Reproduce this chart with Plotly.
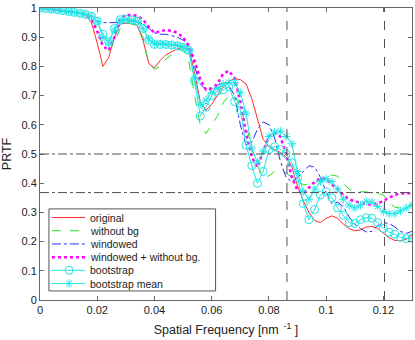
import math
import plotly.graph_objects as go

# spatial frequency grid [nm^-1]
freq = [round(0.002 * i, 3) for i in range(66)]

original = [1.0, 0.998, 0.995, 0.992, 0.99, 0.987, 0.985, 0.982, 0.978, 0.95,
            0.88, 0.80, 0.83, 0.90, 0.945, 0.948, 0.946, 0.94, 0.89, 0.81,
            0.795, 0.82, 0.84, 0.85, 0.86, 0.865, 0.86, 0.78, 0.68, 0.65,
            0.67, 0.70, 0.73, 0.75, 0.757, 0.755, 0.74, 0.69, 0.62, 0.55,
            0.525, 0.515, 0.505, 0.49, 0.457, 0.39, 0.34, 0.30, 0.272, 0.265,
            0.28, 0.288, 0.28, 0.26, 0.245, 0.237, 0.24, 0.25, 0.252, 0.245,
            0.23, 0.213, 0.204, 0.203, 0.208, 0.222]

without_bg = [1.0, 0.998, 0.995, 0.992, 0.99, 0.987, 0.985, 0.982, 0.978, 0.965,
              0.93, 0.87, 0.853, 0.88, 0.93, 0.948, 0.947, 0.94, 0.90, 0.81,
              0.79, 0.80, 0.825, 0.84, 0.855, 0.86, 0.82, 0.70, 0.60, 0.57,
              0.60, 0.63, 0.675, 0.70, 0.70, 0.66, 0.60, 0.52, 0.46, 0.42,
              0.425, 0.44, 0.44, 0.435, 0.42, 0.405, 0.395, 0.395, 0.40, 0.415,
              0.43, 0.428, 0.424, 0.40, 0.38, 0.372, 0.372, 0.37, 0.367, 0.365,
              0.36, 0.335, 0.318, 0.315, 0.32, 0.328]

windowed = [1.0, 0.998, 0.996, 0.993, 0.99, 0.988, 0.985, 0.982, 0.978, 0.97,
            0.955, 0.95, 0.95, 0.948, 0.95, 0.955, 0.955, 0.952, 0.945, 0.93,
            0.915, 0.91, 0.91, 0.905, 0.90, 0.89, 0.875, 0.80, 0.74, 0.72,
            0.72, 0.735, 0.745, 0.735, 0.70, 0.60, 0.53, 0.54, 0.585, 0.61,
            0.60, 0.555, 0.475, 0.42, 0.405, 0.42, 0.44, 0.46, 0.455, 0.42,
            0.37, 0.33, 0.335, 0.32, 0.285, 0.26, 0.245, 0.233, 0.235, 0.255,
            0.265, 0.262, 0.25, 0.235, 0.228, 0.235]

windowed_no_bg = [1.0, 0.998, 0.996, 0.993, 0.99, 0.988, 0.985, 0.982, 0.975, 0.96,
                  0.92, 0.87, 0.855, 0.90, 0.965, 0.976, 0.976, 0.973, 0.96, 0.935,
                  0.915, 0.92, 0.925, 0.922, 0.915, 0.90, 0.87, 0.82, 0.756, 0.72,
                  0.725, 0.74, 0.775, 0.785, 0.76, 0.68, 0.57, 0.49, 0.455, 0.51,
                  0.56, 0.572, 0.56, 0.50, 0.42, 0.375, 0.365, 0.385, 0.405, 0.417,
                  0.415, 0.395, 0.38, 0.36, 0.345, 0.338, 0.332, 0.328, 0.326, 0.33,
                  0.34, 0.35, 0.36, 0.365, 0.366, 0.366]

bootstrap = [1.0, 0.998, 0.996, 0.994, 0.991, 0.988, 0.985, 0.982, 0.978, 0.972,
             0.955, 0.91, 0.885, 0.93, 0.96, 0.962, 0.96, 0.955, 0.93, 0.89,
             0.875, 0.875, 0.875, 0.873, 0.87, 0.865, 0.855, 0.75, 0.63, 0.66,
             0.70, 0.715, 0.72, 0.73, 0.68, 0.65, 0.53, 0.46, 0.40, 0.44,
             0.515, 0.525, 0.515, 0.50, 0.47, 0.42, 0.33, 0.275, 0.31, 0.36,
             0.37, 0.35, 0.315, 0.29, 0.265, 0.262, 0.275, 0.282, 0.28, 0.265,
             0.245, 0.232, 0.225, 0.215, 0.21, 0.212]

bootstrap_mean = [1.0, 0.998, 0.996, 0.994, 0.991, 0.988, 0.985, 0.982, 0.978, 0.972,
                  0.955, 0.90, 0.88, 0.925, 0.955, 0.96, 0.958, 0.953, 0.93, 0.895,
                  0.878, 0.878, 0.876, 0.874, 0.872, 0.867, 0.855, 0.76, 0.67, 0.685,
                  0.71, 0.725, 0.74, 0.745, 0.745, 0.71, 0.64, 0.52, 0.47, 0.51,
                  0.56, 0.575, 0.578, 0.56, 0.535, 0.44, 0.37, 0.345, 0.38, 0.405,
                  0.415, 0.405, 0.38, 0.345, 0.325, 0.315, 0.325, 0.338, 0.335, 0.32,
                  0.303, 0.296, 0.296, 0.305, 0.315, 0.325]

prtf_levels = [0.5, 1 / math.e]        # dash-dot reference levels
resolution_cutoffs = [0.0863, 0.1204]  # dashed vertical markers

xticks = [0, 0.02, 0.04, 0.06, 0.08, 0.1, 0.12]
xtick_text = ["0", "0.02", "0.04", "0.06", "0.08", "0.1", "0.12"]
yticks = [i / 10 for i in range(11)]
ytick_text = ["0", "0.1", "0.2", "0.3", "0.4", "0.5", "0.6", "0.7", "0.8", "0.9", "1"]

cyan = "#22e6e6"

# (name, values, line style, marker symbol)
series = [
    ("original", original, dict(color="#ff2a2a", width=1), None),
    ("without bg", without_bg, dict(color="#22e022", width=1, dash="dash"), None),
    ("windowed", windowed, dict(color="#2a2aff", width=1, dash="dashdot"), None),
    ("windowed + without bg.", windowed_no_bg, dict(color="#ff00ff", width=2.5, dash="dot"), None),
    ("bootstrap", bootstrap, dict(color=cyan, width=1), ("circle-open", 8)),
    ("bootstrap mean", bootstrap_mean, dict(color=cyan, width=1), ("asterisk-open", 7)),
]

fig = go.Figure()

for lvl in prtf_levels:
    fig.add_hline(y=lvl, line=dict(color="#505050", width=1, dash="dashdot"))
for cut in resolution_cutoffs:
    fig.add_vline(x=cut, line=dict(color="#505050", width=1, dash="dash"))

for name, vals, ln, mk in series:
    if mk:
        fig.add_trace(go.Scatter(x=freq, y=vals, mode="lines+markers", name=name, line=ln,
                                 marker=dict(symbol=mk[0], size=mk[1], color=ln["color"],
                                             line=dict(width=1, color=ln["color"]))))
    else:
        fig.add_trace(go.Scatter(x=freq, y=vals, mode="lines", name=name, line=ln))

# hand-drawn legend (matlab style, tighter rows than plotly's own legend)
# drawn on a hidden overlay axis spanning the plot area 0..1
leg_x0, leg_x1 = 0.024, 0.472
leg_y0, leg_y1 = 0.031, 0.312
samp_x0, samp_x1, samp_mid = 0.032, 0.121, 0.078
text_x = 0.128
row_top, row_step = 0.2824, 0.0452

fig.add_shape(type="rect", xref="paper", yref="paper", x0=leg_x0, x1=leg_x1,
              y0=leg_y0, y1=leg_y1, line=dict(color="#555555", width=1),
              fillcolor="white", layer="below")

for i, (name, vals, ln, mk) in enumerate(series):
    ry = row_top - i * row_step
    fig.add_trace(go.Scatter(x=[samp_x0, samp_x1], y=[ry, ry], mode="lines", line=ln,
                             xaxis="x2", yaxis="y2", showlegend=False, hoverinfo="skip"))
    if mk:
        fig.add_trace(go.Scatter(x=[samp_mid], y=[ry], mode="markers",
                                 marker=dict(symbol=mk[0], size=mk[1], color=ln["color"],
                                             line=dict(width=1, color=ln["color"])),
                                 xaxis="x2", yaxis="y2", showlegend=False, hoverinfo="skip"))
    fig.add_annotation(x=text_x, y=ry, xref="paper", yref="paper", text=name,
                       xanchor="left", yanchor="middle", showarrow=False,
                       font=dict(size=10.5, color="#222222"))

axis = dict(showgrid=False, zeroline=False, showline=True, mirror="ticks",
            linecolor="#666666", linewidth=1, ticks="inside", ticklen=4,
            tickcolor="#666666", tickfont=dict(size=11, color="#222222"),
            ticklabeloverflow="allow")

fig.update_layout(
    width=415, height=340,
    margin=dict(l=40, r=2, t=5, b=40),
    paper_bgcolor="white", plot_bgcolor="white",
    font=dict(family="Liberation Sans, Arial, sans-serif", color="#222222"),
    xaxis=dict(axis, range=[0, 0.13], tickvals=xticks, ticktext=xtick_text,
               title=dict(text="Spatial Frequency [nm<sup>  -1</sup> ]",
                          font=dict(size=12.5), standoff=10)),
    yaxis=dict(axis, range=[0, 1], tickvals=yticks, ticktext=ytick_text,
               title=dict(text="PRTF", font=dict(size=12.5), standoff=9)),
    xaxis2=dict(overlaying="x", range=[0, 1], visible=False),
    yaxis2=dict(overlaying="y", range=[0, 1], visible=False),
    showlegend=False,
    hovermode="closest",
)

fig.write_html("out.html", config={"displayModeBar": False},
               post_script="document.body.style.margin='0';")
